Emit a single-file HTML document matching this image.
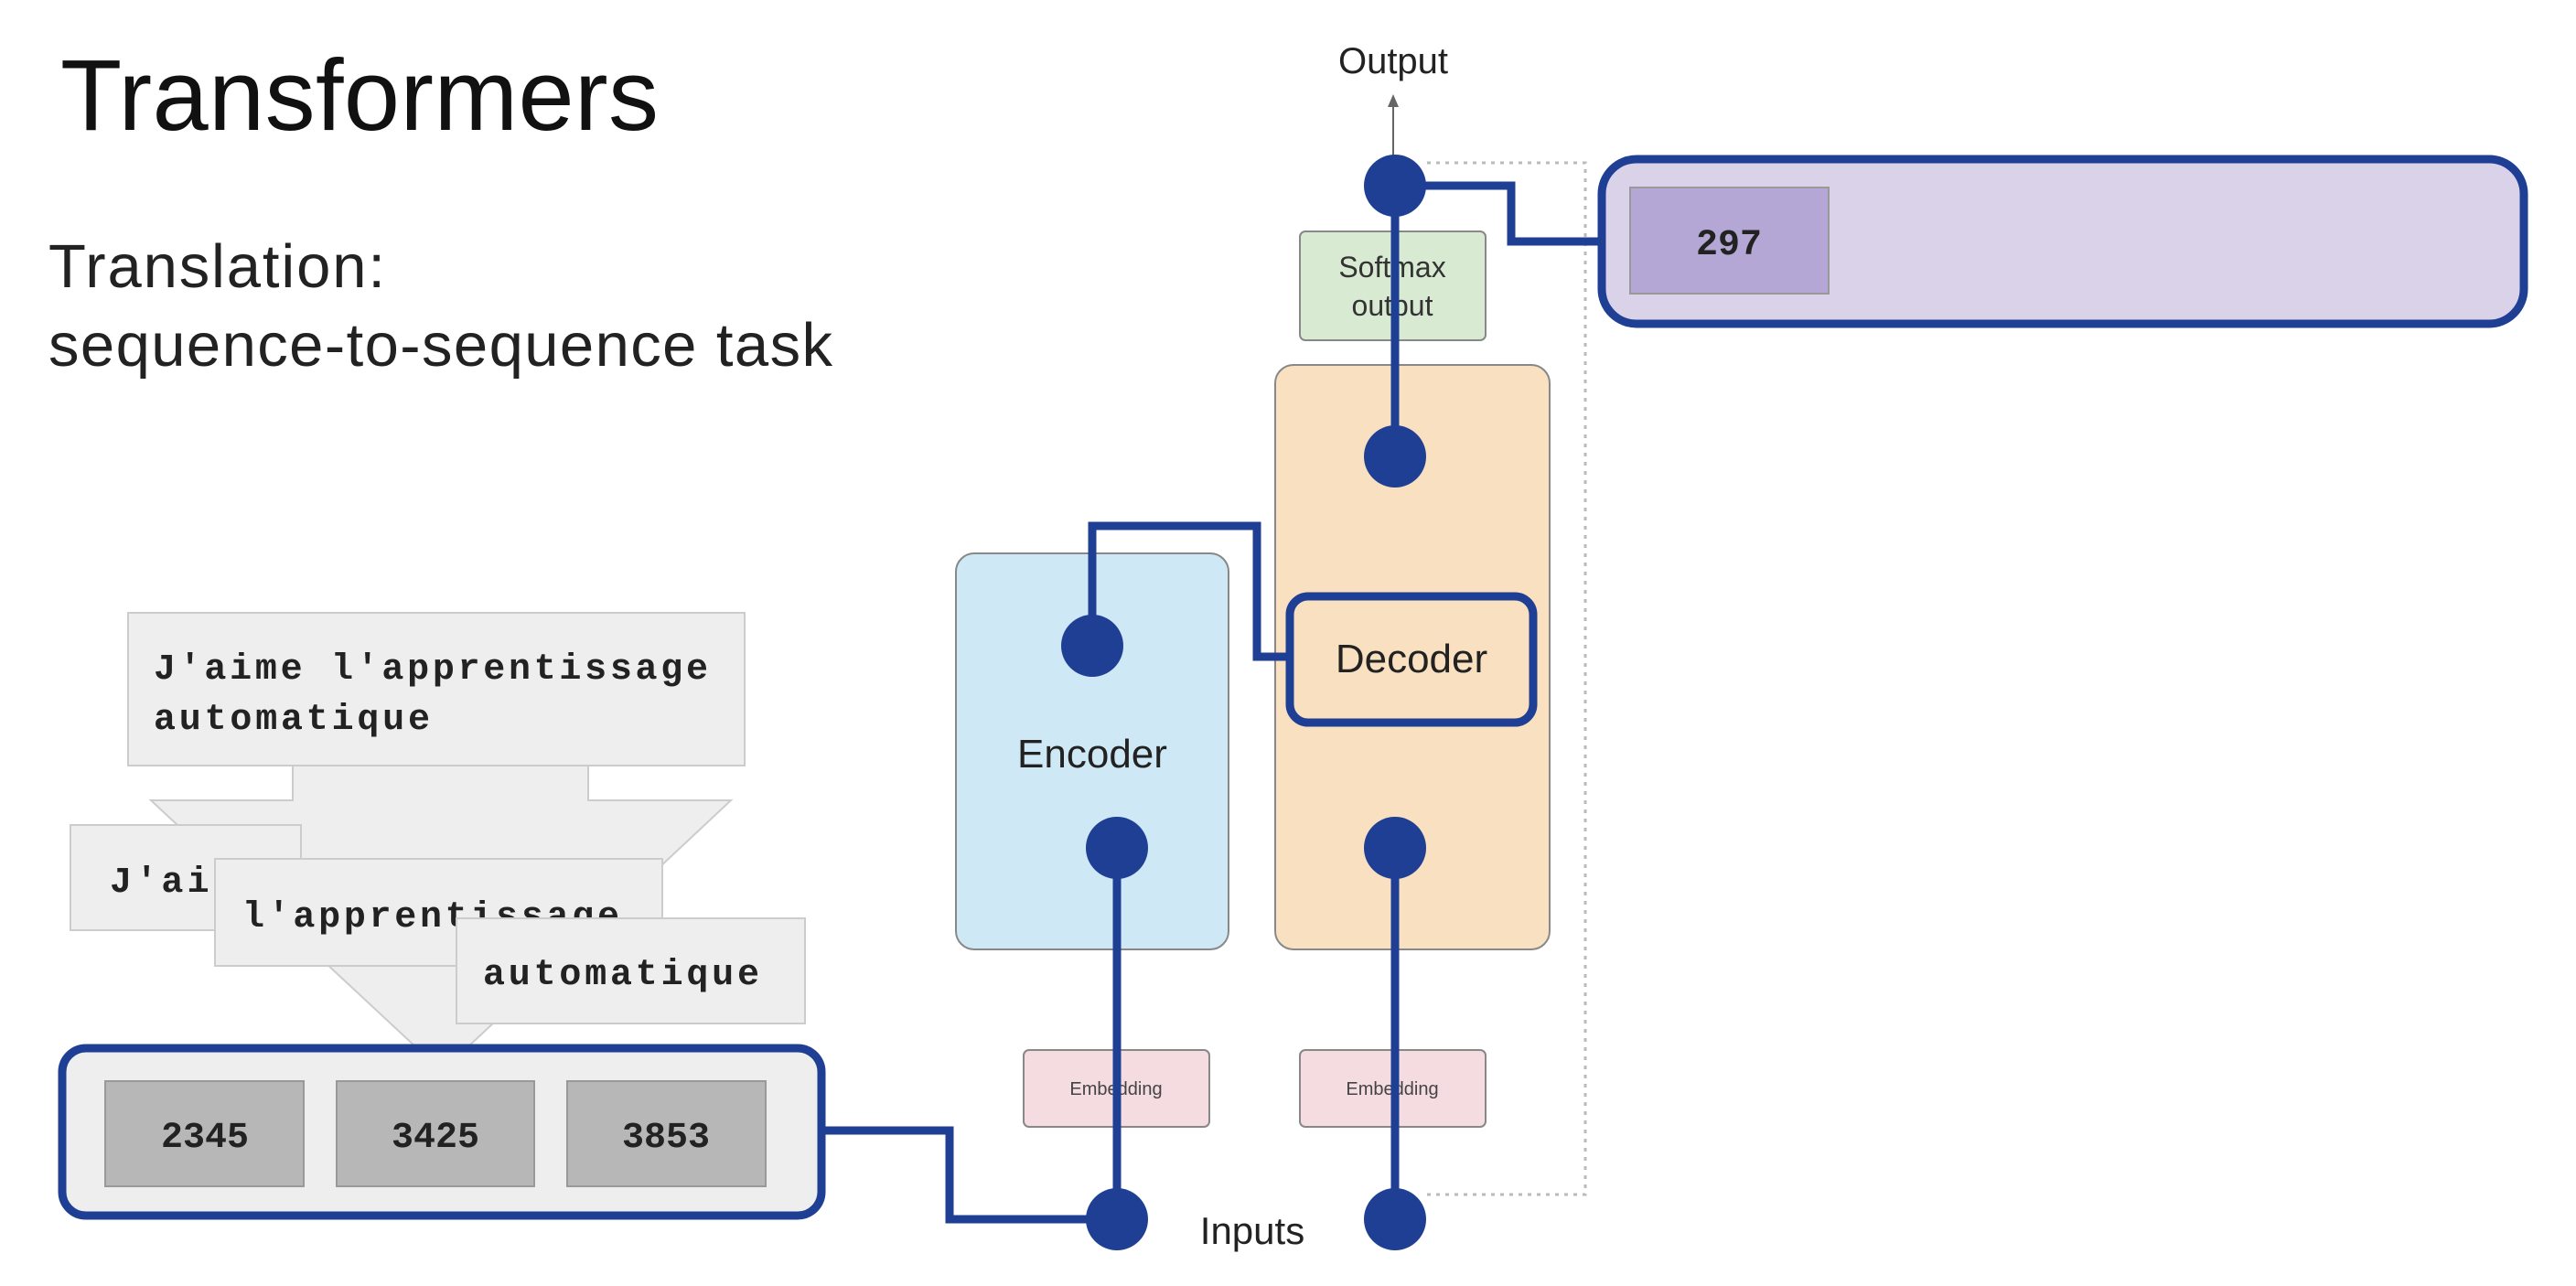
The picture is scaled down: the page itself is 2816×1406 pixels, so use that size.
<!DOCTYPE html>
<html><head><meta charset="utf-8"><style>
html,body{margin:0;padding:0;background:#fff;}
svg{display:block;}
</style></head><body>
<svg width="2816" height="1406" viewBox="0 0 2816 1406" xmlns="http://www.w3.org/2000/svg">
<rect width="2816" height="1406" fill="#fff"/>
<text x="66" y="142" font-family="Liberation Sans, sans-serif" font-size="110" fill="#111" textLength="654">Transformers</text>
<text x="53" y="314" font-family="Liberation Sans, sans-serif" font-size="67" fill="#222" textLength="368">Translation:</text>
<text x="53" y="400" font-family="Liberation Sans, sans-serif" font-size="67" fill="#222" textLength="857">sequence-to-sequence task</text>

<!-- funnel -->
<rect x="320" y="837" width="323" height="40" fill="#eeeeee"/>
<polygon points="165,875 320,875 320,837 643,837 643,875 799,875 510,1146 456,1146" fill="#eeeeee" stroke="#cccccc" stroke-width="2"/>
<rect x="140" y="670" width="674" height="167" fill="#eeeeee" stroke="#cccccc" stroke-width="2"/>
<text font-family="Liberation Mono, monospace" font-weight="bold" font-size="40" fill="#222"><tspan x="168" y="742" textLength="606">J'aime l'apprentissage</tspan></text>
<text font-family="Liberation Mono, monospace" font-weight="bold" font-size="40" fill="#222"><tspan x="168" y="797" textLength="302">automatique</tspan></text>
<rect x="77" y="902" width="252" height="115" fill="#eeeeee" stroke="#cccccc" stroke-width="2"/>
<text x="120" y="975" font-family="Liberation Mono, monospace" font-weight="bold" font-size="40" fill="#222" textLength="165">J'aime</text>
<rect x="235" y="939" width="489" height="117" fill="#eeeeee" stroke="#cccccc" stroke-width="2"/>
<text x="265" y="1013" font-family="Liberation Mono, monospace" font-weight="bold" font-size="40" fill="#222" textLength="412">l'apprentissage</text>
<rect x="499" y="1004" width="381" height="115" fill="#eeeeee" stroke="#cccccc" stroke-width="2"/>
<text x="528" y="1076" font-family="Liberation Mono, monospace" font-weight="bold" font-size="40" fill="#222" textLength="302">automatique</text>

<!-- token box -->
<rect x="68" y="1146" width="830" height="183" rx="26" fill="#eeeeee" stroke="#1f3f95" stroke-width="9"/>
<rect x="115" y="1182" width="217" height="115" fill="#b7b7b7" stroke="#999" stroke-width="2"/>
<rect x="368" y="1182" width="216" height="115" fill="#b7b7b7" stroke="#999" stroke-width="2"/>
<rect x="620" y="1182" width="217" height="115" fill="#b7b7b7" stroke="#999" stroke-width="2"/>
<g font-family="Liberation Mono, monospace" font-weight="bold" font-size="40" fill="#222" text-anchor="middle">
<text x="224" y="1254">2345</text><text x="476" y="1254">3425</text><text x="728" y="1254">3853</text>
</g>

<!-- dotted frame -->
<path d="M1560,178 H1733 V1306 H1560" fill="none" stroke="#bbb" stroke-width="3" stroke-dasharray="4,6"/>

<!-- encoder/decoder -->
<rect x="1045" y="605" width="298" height="433" rx="20" fill="#cfe8f5" stroke="#888" stroke-width="2"/>
<rect x="1394" y="399" width="300" height="639" rx="20" fill="#f8e0c0" stroke="#888" stroke-width="2"/>
<text x="1194" y="839" font-family="Liberation Sans, sans-serif" font-size="44" fill="#222" text-anchor="middle">Encoder</text>
<rect x="1410" y="652" width="266" height="138" rx="20" fill="#f8e0c0" stroke="#1f3f95" stroke-width="9"/>
<text x="1543" y="735" font-family="Liberation Sans, sans-serif" font-size="44" fill="#222" text-anchor="middle">Decoder</text>
<rect x="1421" y="253" width="203" height="119" rx="6" fill="#d9ead3" stroke="#888" stroke-width="2"/>
<text font-family="Liberation Sans, sans-serif" font-size="32" fill="#333" text-anchor="middle"><tspan x="1522" y="303">Softmax</tspan><tspan x="1522" y="345">output</tspan></text>
<rect x="1119" y="1148" width="203" height="84" rx="6" fill="#f4dce0" stroke="#888" stroke-width="2"/>
<rect x="1421" y="1148" width="203" height="84" rx="6" fill="#f4dce0" stroke="#888" stroke-width="2"/>
<text x="1220" y="1197" font-family="Liberation Sans, sans-serif" font-size="20" fill="#444" text-anchor="middle">Embedding</text>
<text x="1522" y="1197" font-family="Liberation Sans, sans-serif" font-size="20" fill="#444" text-anchor="middle">Embedding</text>

<!-- output arrow -->
<line x1="1523" y1="175" x2="1523" y2="115" stroke="#666" stroke-width="2"/>
<polygon points="1523,103 1517,117 1529,117" fill="#666"/>
<text x="1523" y="80" font-family="Liberation Sans, sans-serif" font-size="40" fill="#222" text-anchor="middle">Output</text>
<text x="1369" y="1360" font-family="Liberation Sans, sans-serif" font-size="42" fill="#222" text-anchor="middle">Inputs</text>

<!-- output box -->
<rect x="1751" y="174" width="1008" height="180" rx="38" fill="#d9d2e9" stroke="#1f3f95" stroke-width="9"/>
<rect x="1782" y="205" width="217" height="116" fill="#b4a7d6" stroke="#999" stroke-width="2"/>
<text x="1890" y="278" font-family="Liberation Mono, monospace" font-weight="bold" font-size="40" fill="#222" text-anchor="middle">297</text>

<!-- blue connectors -->
<g fill="none" stroke="#1f3f95" stroke-width="9" stroke-linejoin="miter">
<path d="M898,1236 H1038 V1333 H1221"/>
<path d="M1221,1333 V927"/>
<path d="M1525,1333 V927"/>
<path d="M1525,499 V203 H1652 V264 H1751"/>
<path d="M1194,706 V575 H1374 V718 H1410"/>
</g>
<g fill="#1f3f95">
<circle cx="1221" cy="1333" r="34"/>
<circle cx="1525" cy="1333" r="34"/>
<circle cx="1221" cy="927" r="34"/>
<circle cx="1525" cy="927" r="34"/>
<circle cx="1194" cy="706" r="34"/>
<circle cx="1525" cy="499" r="34"/>
<circle cx="1525" cy="203" r="34"/>
</g>
</svg>
</body></html>
